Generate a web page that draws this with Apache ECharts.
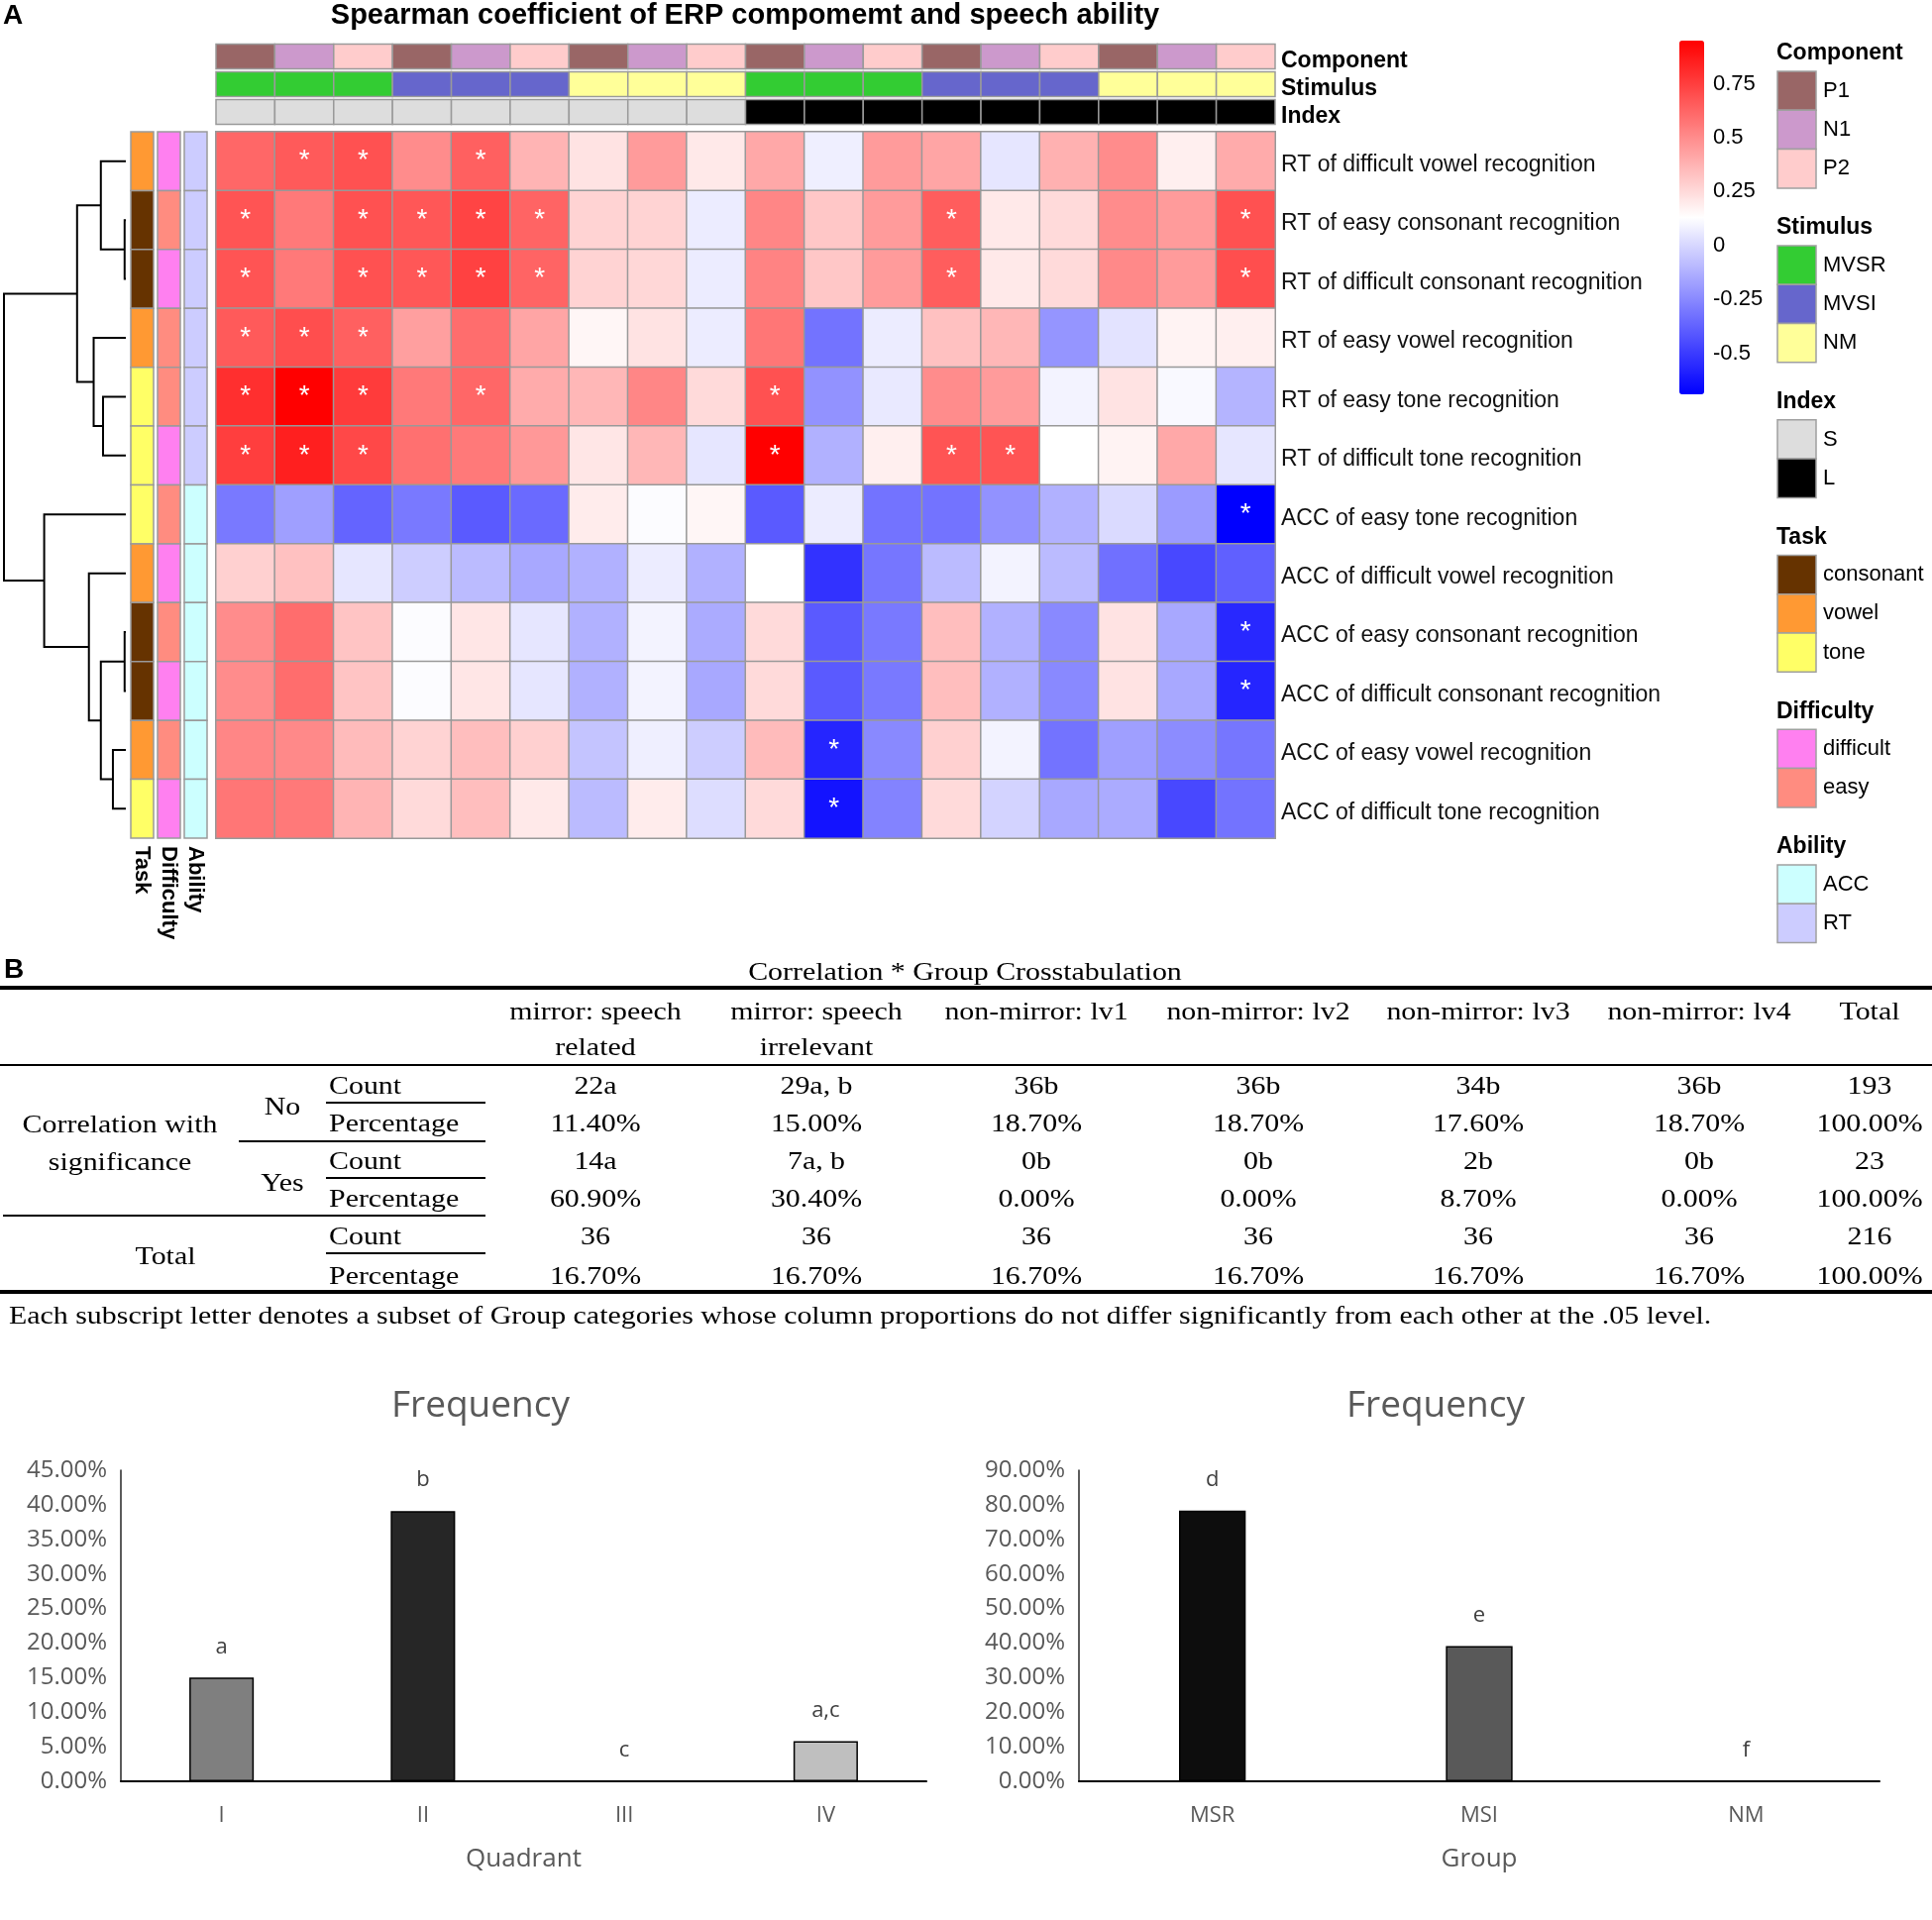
<!DOCTYPE html>
<html>
<head>
<meta charset="utf-8">
<script src="https://cdn.jsdelivr.net/npm/echarts@6/dist/echarts.min.js"></script>
<style>
html, body { margin: 0; padding: 0; background: #fff; }
#main { width: 1950px; height: 1938px; }
</style>
</head>
<body>
<div id="main"></div>
<script>
// ---- part A: heatmap data ----
var rowNames = ['RT of difficult vowel recognition', 'RT of easy consonant recognition',
	'RT of difficult consonant recognition', 'RT of easy vowel recognition',
	'RT of easy tone recognition', 'RT of difficult tone recognition',
	'ACC of easy tone recognition', 'ACC of difficult vowel recognition',
	'ACC of easy consonant recognition', 'ACC of difficult consonant recognition',
	'ACC of easy vowel recognition', 'ACC of difficult tone recognition'];
var colComponent = ['P1', 'N1', 'P2', 'P1', 'N1', 'P2', 'P1', 'N1', 'P2', 'P1', 'N1', 'P2', 'P1', 'N1', 'P2', 'P1', 'N1', 'P2'];
var colStimulus = ['MVSR', 'MVSR', 'MVSR', 'MVSI', 'MVSI', 'MVSI', 'NM', 'NM', 'NM', 'MVSR', 'MVSR', 'MVSR', 'MVSI', 'MVSI', 'MVSI', 'NM', 'NM', 'NM'];
var colIndex = ['S', 'S', 'S', 'S', 'S', 'S', 'S', 'S', 'S', 'L', 'L', 'L', 'L', 'L', 'L', 'L', 'L', 'L'];
var rowTask = ['vowel', 'consonant', 'consonant', 'vowel', 'tone', 'tone', 'tone', 'vowel', 'consonant', 'consonant', 'vowel', 'tone'];
var rowDifficulty = ['difficult', 'easy', 'difficult', 'easy', 'easy', 'difficult', 'easy', 'difficult', 'easy', 'difficult', 'easy', 'difficult'];
var rowAbility = ['RT', 'RT', 'RT', 'RT', 'RT', 'RT', 'ACC', 'ACC', 'ACC', 'ACC', 'ACC', 'ACC'];

// spearman rho, one row per speech measure
var rho = [
	[0.62, 0.66, 0.69, 0.50, 0.64, 0.37, 0.22, 0.45, 0.20, 0.41, 0.08, 0.45, 0.42, 0.05, 0.38, 0.50, 0.18, 0.40],
	[0.68, 0.56, 0.69, 0.67, 0.73, 0.63, 0.27, 0.27, 0.07, 0.52, 0.31, 0.45, 0.65, 0.20, 0.25, 0.50, 0.45, 0.69],
	[0.68, 0.56, 0.69, 0.67, 0.74, 0.63, 0.27, 0.26, 0.07, 0.53, 0.31, 0.45, 0.65, 0.20, 0.25, 0.51, 0.45, 0.70],
	[0.66, 0.70, 0.64, 0.44, 0.60, 0.42, 0.16, 0.22, 0.07, 0.57, -0.32, 0.07, 0.33, 0.36, -0.21, 0.04, 0.17, 0.18],
	[0.80, 0.95, 0.76, 0.56, 0.62, 0.40, 0.36, 0.52, 0.25, 0.69, -0.22, 0.06, 0.50, 0.45, 0.09, 0.22, 0.11, -0.11],
	[0.75, 0.85, 0.72, 0.59, 0.56, 0.46, 0.21, 0.36, 0.05, 0.95, -0.12, 0.18, 0.68, 0.68, 0.13, 0.17, 0.41, 0.05],
	[-0.30, -0.18, -0.37, -0.30, -0.40, -0.35, 0.19, 0.12, 0.16, -0.40, 0.07, -0.32, -0.32, -0.22, -0.12, 0.01, -0.19, -0.69],
	[0.28, 0.33, 0.05, -0.03, -0.09, -0.15, -0.12, 0.07, -0.12, 0.13, -0.53, -0.31, -0.09, 0.09, -0.09, -0.33, -0.46, -0.38],
	[0.50, 0.60, 0.32, 0.12, 0.21, 0.05, -0.12, 0.09, -0.14, 0.25, -0.40, -0.30, 0.34, -0.12, -0.25, 0.22, -0.15, -0.56],
	[0.50, 0.60, 0.32, 0.12, 0.21, 0.05, -0.12, 0.09, -0.15, 0.25, -0.40, -0.30, 0.34, -0.12, -0.25, 0.22, -0.15, -0.57],
	[0.52, 0.51, 0.35, 0.27, 0.34, 0.28, -0.06, 0.08, -0.03, 0.35, -0.57, -0.25, 0.28, 0.09, -0.32, -0.18, -0.24, -0.31],
	[0.57, 0.56, 0.37, 0.25, 0.34, 0.20, -0.09, 0.19, 0.02, 0.25, -0.63, -0.27, 0.25, -0.01, -0.15, -0.14, -0.46, -0.32]
];
// columns (0 based) marked with * in each row
var sigCols = [[1, 2, 4], [0, 2, 3, 4, 5, 12, 17], [0, 2, 3, 4, 5, 12, 17], [0, 1, 2], [0, 1, 2, 4, 9],
	[0, 1, 2, 9, 12, 13], [17], [], [17], [17], [10], [10]];
// row dendrogram: [node a, node b, height], leaves are 0..11, new nodes numbered from 12
var dendroMerges = [[1, 2, 0.01], [0, 12, 0.205], [4, 5, 0.187], [3, 14, 0.264], [13, 15, 0.40],
	[8, 9, 0.01], [10, 11, 0.106], [17, 18, 0.205], [7, 19, 0.303], [6, 20, 0.67], [16, 21, 1.0]];
var rhoMin = -0.69, rhoMax = 0.95;
var colorTicks = [-0.5, -0.25, 0, 0.25, 0.5, 0.75];

var annColors = {
	Component: { P1: '#996666', N1: '#cc99cc', P2: '#ffcccc' },
	Stimulus: { MVSR: '#33cc33', MVSI: '#6666cc', NM: '#ffff99' },
	Index: { S: '#dddddd', L: '#000000' },
	Task: { consonant: '#663300', vowel: '#ff9933', tone: '#ffff66' },
	Difficulty: { difficult: '#ff80f0', easy: '#ff8c80' },
	Ability: { ACC: '#ccffff', RT: '#ccccff' }
};

// ---- part B: crosstab ----
var tableTitle = 'Correlation * Group Crosstabulation';
var tableHeaders = [['mirror: speech', 'related'], ['mirror: speech', 'irrelevant'], ['non-mirror: lv1'],
	['non-mirror: lv2'], ['non-mirror: lv3'], ['non-mirror: lv4'], ['Total']];
var noCount = ['22a', '29a, b', '36b', '36b', '34b', '36b', '193'];
var noPct = ['11.40%', '15.00%', '18.70%', '18.70%', '17.60%', '18.70%', '100.00%'];
var yesCount = ['14a', '7a, b', '0b', '0b', '2b', '0b', '23'];
var yesPct = ['60.90%', '30.40%', '0.00%', '0.00%', '8.70%', '0.00%', '100.00%'];
var totalCount = ['36', '36', '36', '36', '36', '36', '216'];
var totalPct = ['16.70%', '16.70%', '16.70%', '16.70%', '16.70%', '16.70%', '100.00%'];
var tableNote = 'Each subscript letter denotes a subset of Group categories whose column proportions do not differ significantly from each other at the .05 level.';

// ---- bar charts ----
var quadrants = ['I', 'II', 'III', 'IV'];
var quadrantFreq = [15.0, 39.1, 0, 5.8];
var quadrantLetters = ['a', 'b', 'c', 'a,c'];
var quadrantColors = ['#7f7f7f', '#262626', '#a6a6a6', '#bfbfbf'];
var groups = ['MSR', 'MSI', 'NM'];
var groupFreq = [78.3, 39.1, 0];
var groupLetters = ['d', 'e', 'f'];
var groupColors = ['#0d0d0d', '#595959', '#a6a6a6'];

var SANS = 'Liberation Sans', SERIF = 'Liberation Serif', OPEN = 'Open Sans';

// heatmap cells
var sigSet = {};
sigCols.forEach(function (cols, r) {
	cols.forEach(function (c) { sigSet[r + '_' + c] = true; });
});
var heatData = [];
rho.forEach(function (row, r) {
	row.forEach(function (v, c) { heatData.push([c, r, v]); });
});
var colKeys = colComponent.map(function (c, i) { return c + ' ' + colStimulus[i] + ' ' + colIndex[i]; });

// annotation cells
var colAnnNames = ['Component', 'Stimulus', 'Index'];
var colAnnData = [];
[colComponent, colStimulus, colIndex].forEach(function (arr, r) {
	arr.forEach(function (v, c) {
		colAnnData.push({ value: [c, r], itemStyle: { color: annColors[colAnnNames[r]][v] } });
	});
});
var rowAnnNames = ['Task', 'Difficulty', 'Ability'];
var rowAnnData = [];
[rowTask, rowDifficulty, rowAbility].forEach(function (arr, c) {
	arr.forEach(function (v, r) {
		rowAnnData.push({ value: [c, r], itemStyle: { color: annColors[rowAnnNames[c]][v] } });
	});
});
function annRender(insetX, insetY) {
	return function (params, api) {
		var p = api.coord([api.value(0), api.value(1)]);
		var s = api.size([1, 1]);
		return {
			type: 'rect',
			shape: { x: p[0] - s[0] / 2 + insetX, y: p[1] - s[1] / 2 + insetY, width: s[0] - 2 * insetX, height: s[1] - 2 * insetY },
			style: { fill: api.visual('color'), stroke: '#9a9a9a', lineWidth: 1.5 }
		};
	};
}

// dendrogram segments from merge list
var nodeY = {}, nodeH = {};
for (var i = 0; i < rowNames.length; i++) { nodeY[i] = i; nodeH[i] = 0; }
var dendroLines = [];
dendroMerges.forEach(function (m, k) {
	var id = rowNames.length + k, a = m[0], b = m[1], h = m[2];
	dendroLines.push({ coords: [[nodeH[a], nodeY[a]], [h, nodeY[a]], [h, nodeY[b]], [nodeH[b], nodeY[b]]] });
	nodeY[id] = (nodeY[a] + nodeY[b]) / 2;
	nodeH[id] = h;
});

// graphic: titles, legend, table
var g = [];
function txt(x, y, s, size, opt) {
	opt = opt || {};
	var el = {
		type: 'text', x: x, y: y, silent: true,
		style: {
			text: s, fontSize: size, fontFamily: opt.family || SANS, fontWeight: opt.bold ? 'bold' : 'normal',
			fill: opt.color || '#000', align: opt.align || 'left', verticalAlign: 'middle'
		}
	};
	if (opt.scaleX) el.scaleX = opt.scaleX;
	g.push(el);
}
function hline(x1, x2, y, w) {
	g.push({ type: 'line', silent: true, shape: { x1: x1, y1: y, x2: x2, y2: y }, style: { stroke: '#000', lineWidth: w } });
}

txt(3, 16, 'A', 28, { bold: true });
txt(752, 16, 'Spearman coefficient of ERP compomemt and speech ability', 29, { bold: true, align: 'center' });

// annotation legends
var boxTop = 72, boxH = 39.3;
Object.keys(annColors).forEach(function (name) {
	var cols = annColors[name];
	txt(1793, boxTop - 18, name, 23, { bold: true });
	Object.keys(cols).forEach(function (k, i) {
		g.push({ type: 'rect', silent: true, shape: { x: 1794, y: boxTop + i * boxH, width: 39, height: boxH },
			style: { fill: cols[k], stroke: '#a0a0a0', lineWidth: 1.5 } });
		txt(1840, boxTop + i * boxH + boxH / 2, k, 22);
	});
	boxTop += Object.keys(cols).length * boxH + 58;
});

// crosstab
var TS = 1.15, TF = 26;
function ttxt(x, y, s, align) { txt(x, y, s, TF, { family: SERIF, align: align || 'center', scaleX: TS }); }
txt(4, 979, 'B', 28, { bold: true });
ttxt(974, 982, tableTitle);
hline(0, 1950, 997, 4);
var colX = [601, 824, 1046, 1270, 1492, 1715, 1887];
tableHeaders.forEach(function (h, i) {
	h.forEach(function (line, j) { ttxt(colX[i], 1022 + j * 36, line); });
});
hline(0, 1950, 1075, 2);
var rowY = [1097, 1135, 1173, 1211, 1249, 1289];
[noCount, noPct, yesCount, yesPct, totalCount, totalPct].forEach(function (vals, r) {
	ttxt(332, rowY[r], r % 2 === 0 ? 'Count' : 'Percentage', 'left');
	vals.forEach(function (v, i) { ttxt(colX[i], rowY[r], v); });
});
ttxt(285, 1118, 'No');
ttxt(285, 1195, 'Yes');
ttxt(121, 1136, 'Correlation with');
ttxt(121, 1174, 'significance');
ttxt(167, 1269, 'Total');
hline(329, 490, 1113, 2);
hline(241, 490, 1152, 2);
hline(329, 490, 1189, 2);
hline(3, 490, 1227, 2);
hline(329, 490, 1265, 2);
hline(0, 1950, 1304, 4);
txt(9, 1329, tableNote, 26, { family: SERIF, scaleX: TS });

// bar chart titles
txt(485, 1419, 'Frequency', 37, { family: OPEN, color: '#595959', align: 'center' });
txt(1449, 1419, 'Frequency', 37, { family: OPEN, color: '#595959', align: 'center' });

function pctLabel(v) { return v.toFixed(2) + '%'; }
function barAxisX(grid, cats, name) {
	return {
		gridIndex: grid, type: 'category', data: cats,
		axisLine: { lineStyle: { color: '#000', width: 2 } }, axisTick: { show: false },
		axisLabel: { interval: 0, fontSize: 22, fontFamily: OPEN, color: '#595959', margin: 24 },
		name: name, nameLocation: 'middle', nameGap: 66,
		nameTextStyle: { fontSize: 26, fontFamily: OPEN, color: '#595959' }
	};
}
function barAxisY(grid, max, step) {
	return {
		gridIndex: grid, type: 'value', min: 0, max: max, interval: step,
		axisLine: { show: true, lineStyle: { color: '#262626', width: 1.5 } }, axisTick: { show: false },
		splitLine: { show: false },
		axisLabel: { fontSize: 24, fontFamily: OPEN, color: '#595959', margin: 14, formatter: pctLabel }
	};
}
function barSeries(axis, vals, colors, letters, width) {
	return {
		type: 'bar', xAxisIndex: axis, yAxisIndex: axis, barWidth: width,
		data: vals.map(function (v, i) { return { value: v, itemStyle: { color: colors[i] } }; }),
		itemStyle: { borderColor: '#000', borderWidth: 1.5 },
		label: { show: true, position: 'top', distance: 20, fontSize: 22, fontFamily: OPEN, color: '#404040',
			formatter: function (p) { return letters[p.dataIndex]; } }
	};
}

var grids = [
	{ left: 218, top: 133, width: 1069, height: 713 },
	{ left: 218, top: 43, width: 1069, height: 84 },
	{ left: 130, top: 133, width: 81, height: 713 },
	{ left: 4, top: 133, width: 123, height: 713 },
	{ left: 1722, top: 41, width: 2, height: 357 },
	{ left: 122, top: 1484, width: 813, height: 314 },
	{ left: 1089, top: 1484, width: 808, height: 314 },
	// label-only grids, a few px lower than the cells they name
	{ left: 218, top: 137, width: 1069, height: 713 },
	{ left: 218, top: 47.5, width: 1069, height: 84 }
];
grids.forEach(function (gr) { gr.outerBoundsMode = 'none'; gr.containLabel = false; });

var hidden = { show: false };
var option = {
	backgroundColor: '#fff',
	animation: false,
	grid: grids,
	xAxis: [
		{ gridIndex: 0, type: 'category', data: colKeys, show: false },
		{ gridIndex: 1, type: 'category', data: colKeys, show: false },
		{ gridIndex: 2, type: 'category', data: rowAnnNames, axisLine: hidden, axisTick: hidden,
			axisLabel: { interval: 0, rotate: -90, margin: 8, fontSize: 22, fontWeight: 'bold', fontFamily: SANS, color: '#000' } },
		{ gridIndex: 3, type: 'value', min: 0, max: 1, inverse: true, show: false },
		{ gridIndex: 4, type: 'value', show: false },
		barAxisX(5, quadrants, 'Quadrant'),
		barAxisX(6, groups, 'Group'),
		{ gridIndex: 7, type: 'category', data: colKeys, show: false },
		{ gridIndex: 8, type: 'category', data: colKeys, show: false }
	],
	yAxis: [
		{ gridIndex: 0, type: 'category', data: rowNames, inverse: true, show: false },
		{ gridIndex: 1, type: 'category', data: colAnnNames, inverse: true, show: false },
		{ gridIndex: 2, type: 'category', data: rowNames, inverse: true, show: false },
		{ gridIndex: 3, type: 'value', min: -0.5, max: rowNames.length - 0.5, inverse: true, show: false },
		{ gridIndex: 4, type: 'value', min: rhoMin, max: rhoMax, position: 'right',
			axisLine: hidden, axisTick: hidden, splitLine: hidden,
			axisLabel: { customValues: colorTicks, margin: 5, fontSize: 22, fontFamily: SANS, color: '#000',
				formatter: function (v) { return String(v); } } },
		barAxisY(5, 45, 5),
		barAxisY(6, 90, 10),
		{ gridIndex: 7, type: 'category', data: rowNames, inverse: true, position: 'right',
			axisLine: hidden, axisTick: hidden,
			axisLabel: { interval: 0, margin: 6, fontSize: 23, fontFamily: SANS, color: '#111' } },
		{ gridIndex: 8, type: 'category', data: colAnnNames, inverse: true, position: 'right',
			axisLine: hidden, axisTick: hidden,
			axisLabel: { interval: 0, margin: 6, fontSize: 23, fontWeight: 'bold', fontFamily: SANS, color: '#000' } }
	],
	visualMap: [{
		type: 'continuous', seriesIndex: 0, min: rhoMin, max: rhoMax, calculable: false,
		orient: 'vertical', left: 1695, top: 41, itemWidth: 25, itemHeight: 357, padding: 0,
		text: null, showLabel: false, hoverLink: false,
		inRange: { color: ['#0000ff', '#ffffff', '#ff0000'] }
	}],
	series: [
		{
			type: 'heatmap', xAxisIndex: 0, yAxisIndex: 0, data: heatData,
			itemStyle: { borderColor: '#999999', borderWidth: 1.5 },
			label: { show: true, color: '#fff', fontSize: 28, fontFamily: SANS,
				formatter: function (p) { return sigSet[p.value[1] + '_' + p.value[0]] ? '*' : ''; } },
			emphasis: { disabled: true }
		},
		{ type: 'custom', xAxisIndex: 1, yAxisIndex: 1, data: colAnnData, renderItem: annRender(0, 1.5), silent: true },
		{ type: 'custom', xAxisIndex: 2, yAxisIndex: 2, data: rowAnnData, renderItem: annRender(2, 0), silent: true },
		{ type: 'lines', coordinateSystem: 'cartesian2d', xAxisIndex: 3, yAxisIndex: 3, polyline: true,
			data: dendroLines, lineStyle: { color: '#000', width: 2, opacity: 1 }, silent: true },
		barSeries(5, quadrantFreq, quadrantColors, quadrantLetters, '32%'),
		barSeries(6, groupFreq, groupColors, groupLetters, '25%')
	],
	graphic: { elements: g }
};

var chart = echarts.init(document.getElementById('main'));
chart.setOption(option);
</script>
</body>
</html>
